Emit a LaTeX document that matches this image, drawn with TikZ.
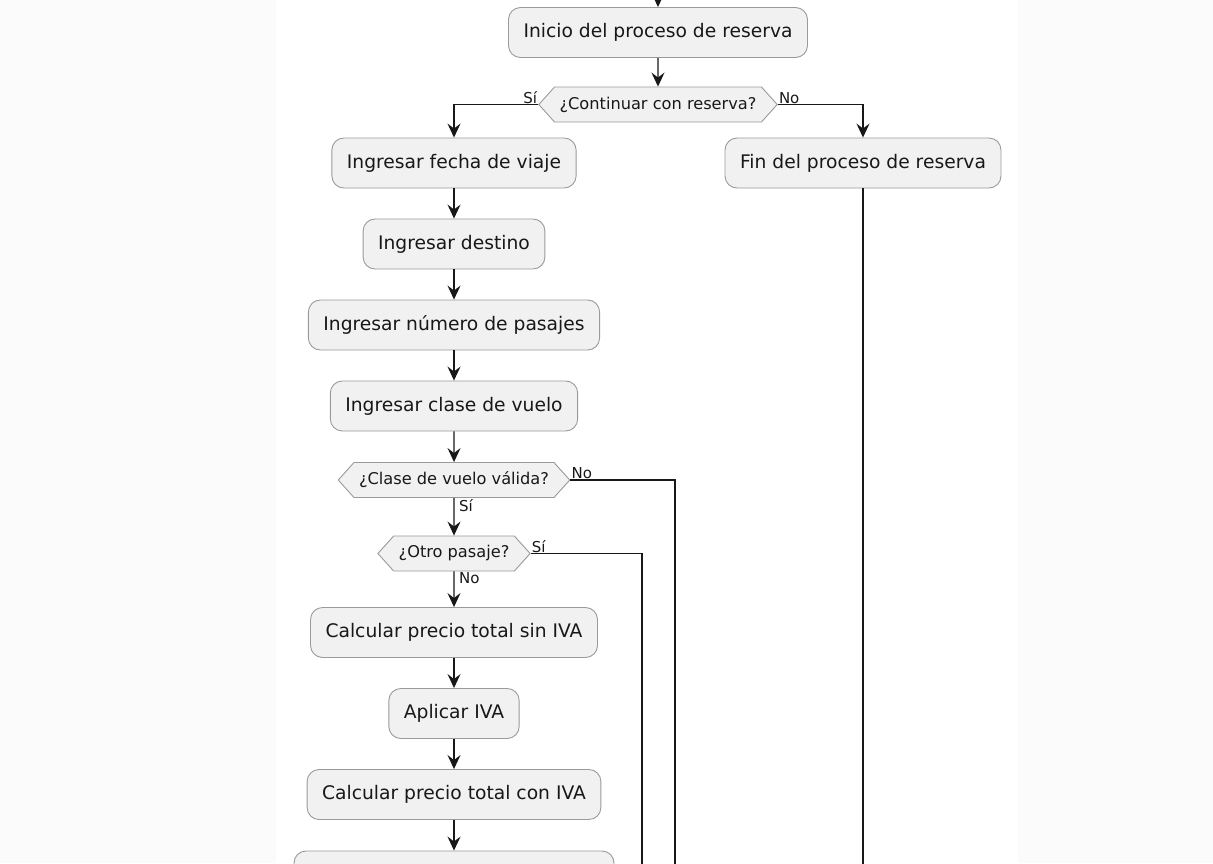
\documentclass[tikz,border=0pt]{standalone}
\usepackage{fontspec}
\setmainfont{DejaVu Sans}
\usepackage{tikz}
\usetikzlibrary{shapes,shapes.symbols,arrows.meta,positioning}
\definecolor{boxfill}{HTML}{F1F1F1}
\definecolor{boxline}{HTML}{9A9A9A}
\definecolor{flowline}{HTML}{181818}
\definecolor{pagegray}{HTML}{FBFBFB}

\begin{document}
\begin{tikzpicture}[x=1pt,y=-1pt,
      every node/.append style={text=flowline},
      flow/.style={draw=flowline,line width=1.1pt,-{Stealth[length=14pt,width=13pt,inset=5pt]}},
      wire/.style={draw=flowline,line width=1.1pt}]
    \tikzstyle{act} = [draw=boxline,fill=boxfill,line width=0.9pt,rounded corners=12pt,
      minimum height=50pt,inner xsep=15pt,font=\fontsize{18.7}{22}\selectfont]
    \tikzstyle{ask} = [draw=boxline,fill=boxfill,line width=0.9pt,signal,signal to=west and east,
      signal pointer angle=96,minimum height=35pt,inner xsep=5pt,inner ysep=0pt,
      font=\fontsize{16.2}{19}\selectfont]
    \tikzstyle{yesno} = [font=\fontsize{15}{17}\selectfont,inner sep=1pt]
    \clip (0,0) rectangle (1213,863);
    \fill[pagegray] (0,0) rectangle (1213,863);
    \fill[white] (276,0) rectangle (1018,863);
    % main column
    \node [act] (inicio) at (658,32.5) {Inicio del proceso de reserva};
    \node [ask] (continuar) at (658,104.5) {¿Continuar con reserva?};
    \node [act] (fecha) at (454,163) {Ingresar fecha de viaje};
    \node [act] (fin) at (863,163) {Fin del proceso de reserva};
    \node [act] (destino) at (454,244) {Ingresar destino};
    \node [act] (pasajes) at (454,325) {Ingresar número de pasajes};
    \node [act] (clase) at (454,406) {Ingresar clase de vuelo};
    \node [ask] (valida) at (454,480) {¿Clase de vuelo válida?};
    \node [ask] (otro) at (454,553.5) {¿Otro pasaje?};
    \node [act] (sinIVA) at (454,632.5) {Calcular precio total sin IVA};
    \node [act] (aplicar) at (454,713.5) {Aplicar IVA};
    \node [act] (conIVA) at (454,794.5) {Calcular precio total con IVA};
    \node [act,minimum width=320pt] (siguiente) at (454,876) {};
    \coordinate (entrada) at (658,-10);
    \coordinate (finBajo) at (863,890);
    \coordinate (validaBajo) at (675,890);
    \coordinate (otroBajo) at (642,890);
    % connectors
    \draw [flow] (entrada) -- (inicio);
    \draw [flow] (inicio) -- (continuar);
    \draw [flow] (continuar.west) -| (fecha.north);
    \node [yesno,anchor=south east] at (continuar.west) {Sí};
    \draw [flow] (continuar.east) -| (fin.north);
    \node [yesno,anchor=south west] at (continuar.east) {No};
    \draw [flow] (fecha) -- (destino);
    \draw [flow] (destino) -- (pasajes);
    \draw [flow] (pasajes) -- (clase);
    \draw [flow] (clase) -- (valida);
    \draw [flow] (valida) -- (otro);
    \node [yesno,anchor=north west,xshift=4pt] at (valida.south) {Sí};
    \draw [wire] (valida.east) -| (validaBajo);
    \node [yesno,anchor=south west] at (valida.east) {No};
    \draw [flow] (otro) -- (sinIVA);
    \node [yesno,anchor=north west,xshift=4pt] at (otro.south) {No};
    \draw [wire] (otro.east) -| (otroBajo);
    \node [yesno,anchor=south west] at (otro.east) {Sí};
    \draw [flow] (sinIVA) -- (aplicar);
    \draw [flow] (aplicar) -- (conIVA);
    \draw [flow] (conIVA) -- (siguiente);
    \draw [wire] (fin) -- (finBajo);
\end{tikzpicture}
\end{document}
